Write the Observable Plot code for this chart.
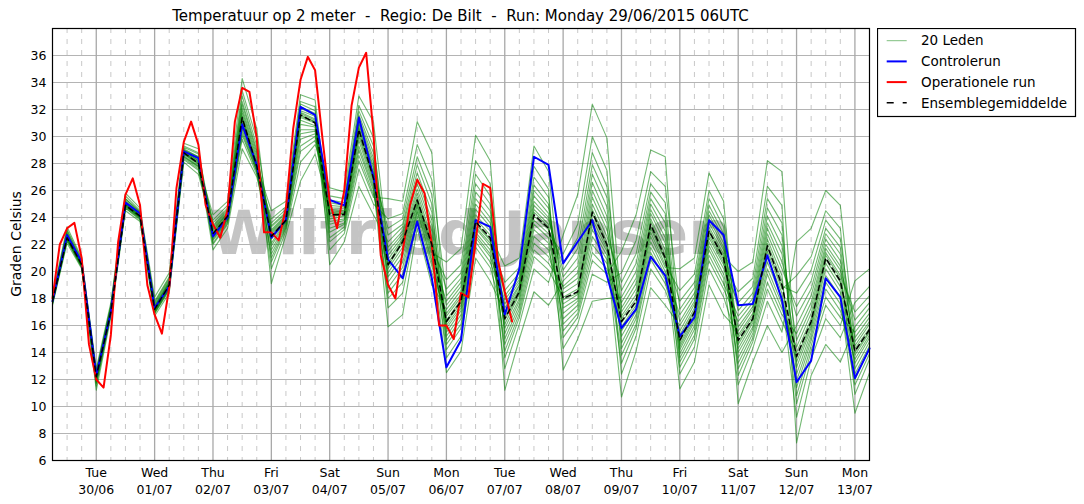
<!DOCTYPE html>
<html><head><meta charset="utf-8">
<script src="https://cdn.jsdelivr.net/npm/d3@7"></script>
<script src="https://cdn.jsdelivr.net/npm/@observablehq/plot@0.6"></script>
<style>
body{margin:0;background:#fff;font-family:"DejaVu Sans",sans-serif;}
#wrap{position:relative;width:1084px;height:504px;overflow:hidden;}
#chart{position:absolute;left:0;top:0;}
#title{position:absolute;top:9px;left:52px;width:817px;text-align:center;font-size:15px;line-height:1;color:#000;white-space:pre;}
#ylab{position:absolute;left:16px;top:244px;transform:translate(-50%,-50%) rotate(-90deg);font-size:14px;white-space:nowrap;color:#000;}
#legend{position:absolute;left:877px;top:28px;}
</style></head>
<body>
<div id="wrap">
  <div id="chart"></div>
  <div id="title">Temperatuur op 2 meter  -  Regio: De Bilt  -  Run: Monday 29/06/2015 06UTC</div>
  <div id="ylab">Graden Celsius</div>
  <div id="legend"></div>
</div>
<script>
// ---------- data ----------
const runStart = "2015-06-29T06:00Z";
const stapUren = 6;        // ensemble en controlerun: 6-uurlijks
const stapUrenOper = 3;    // operationele run: 3-uurlijks
const xEinde = "2015-07-13T06:00Z";

const dagLabels = ["Tue","Wed","Thu","Fri","Sat","Sun","Mon","Tue","Wed","Thu","Fri","Sat","Sun","Mon"];
const datumLabels = ["30/06","01/07","02/07","03/07","04/07","05/07","06/07","07/07","08/07","09/07","10/07","11/07","12/07","13/07"];
const yGrid = [6,8,10,12,14,16,18,20,22,24,26,28,30,32,34,36,38];
const yLabels = [6,8,10,12,14,16,18,20,22,24,26,28,30,32,34,36];

const ensembleGemiddelde = [
 17.8,22.5,20.5,12.2,17.0,24.9,24.1,17.2,19.0,28.8,
 28.0,22.8,24.1,31.4,27.8,22.6,23.8,31.6,31.0,24.2,
 24.2,30.5,26.9,20.5,22.2,25.3,22.0,16.3,17.8,23.7,
 22.5,16.5,18.5,24.2,23.2,18.0,18.5,24.4,22.0,16.3,
 17.8,23.5,21.0,14.9,17.0,23.0,21.0,14.9,16.5,21.9,
 19.0,13.7,16.3,21.0,19.3,14.1,15.7];

const controleRun = [
 17.8,22.7,20.7,12.3,17.0,25.1,24.3,17.3,18.9,28.9,
 28.4,22.6,24.0,30.9,27.9,22.5,23.8,32.2,31.6,25.3,
 24.9,31.4,27.0,20.9,19.5,23.7,19.5,12.9,14.9,23.8,
 23.3,16.8,20.2,28.5,27.9,20.6,22.2,23.8,19.7,15.8,
 17.2,21.1,19.7,15.2,16.6,23.8,22.7,17.5,17.6,21.2,
 17.9,11.8,13.4,19.5,18.1,12.1,14.3];

const operationeleRun = [
 18.0,22.0,23.2,23.6,21.0,14.6,12.0,11.4,15.3,22.2,
 25.7,26.9,24.9,19.0,16.8,15.4,18.8,26.2,29.6,31.1,
 29.4,24.9,23.5,22.5,24.6,31.1,33.6,33.3,29.9,22.9,
 22.9,22.3,24.7,30.6,34.2,35.9,34.9,29.9,25.2,23.2,
 26.0,32.3,35.1,36.2,30.2,21.2,19.0,18.0,21.5,24.9,
 26.8,25.8,22.0,16.0,16.0,15.0,18.4,18.1,22.2,26.5,
 26.2,21.0,18.5,16.3];

// 20 leden, een rij per tijdstap (lid 1 .. lid 20)
const ledenPerStap = [
 [17.9,17.7,17.8,17.6,18.1,17.8,17.7,17.9,17.8,18.0,17.5,17.9,17.7,17.9,17.8,17.7,18.2,17.8,18.0,17.6],
 [22.8,22.5,22.7,22.3,23.1,22.6,22.4,22.7,22.5,23.0,22.1,22.7,22.5,22.8,22.6,22.4,23.3,22.6,22.9,22.3],
 [20.6,20.4,20.5,20.3,20.9,20.5,20.4,20.6,20.5,20.8,20.2,20.6,20.4,20.7,20.5,20.4,21.0,20.5,20.7,20.3],
 [12.4,11.9,12.2,11.5,12.6,12.2,11.8,12.3,12.1,12.5,11.2,12.3,12.0,12.4,12.2,11.8,12.8,12.1,12.5,11.7],
 [17.3,17.0,17.1,16.8,17.5,17.1,16.9,17.2,17.0,17.4,16.6,17.2,17.0,17.3,17.1,16.9,17.7,17.1,17.4,16.8],
 [25.2,24.9,25.1,24.7,25.6,25.0,24.8,25.2,24.9,25.4,24.5,25.1,24.9,25.3,25.0,24.8,25.8,25.0,25.4,24.7],
 [24.3,24.0,24.1,23.8,24.5,24.1,23.9,24.2,24.0,24.4,23.7,24.2,24.0,24.3,24.1,24.0,24.7,24.1,24.4,23.9],
 [17.4,17.1,17.3,16.9,17.8,17.2,17.0,17.4,17.1,17.7,16.7,17.3,17.1,17.5,17.2,17.0,18.1,17.2,17.6,16.9],
 [19.2,18.8,19.1,18.6,19.6,19.0,18.7,19.2,18.9,19.5,18.4,19.1,18.9,19.3,19.0,18.8,19.9,19.0,19.4,18.7],
 [29.0,28.6,28.9,28.3,29.3,28.8,28.5,28.9,28.7,29.2,28.1,28.9,28.7,29.0,28.8,28.5,29.5,28.8,29.1,28.4],
 [28.4,27.8,28.2,27.5,28.8,28.1,27.7,28.3,28.0,28.7,27.2,28.2,27.9,28.5,28.1,27.8,29.1,28.0,28.5,27.6],
 [22.6,23.3,22.1,23.0,23.4,21.6,22.8,22.4,23.8,22.7,23.1,22.0,24.2,22.6,23.6,22.8,22.5,23.2,22.3,22.9],
 [23.9,24.5,23.6,24.3,24.6,23.2,24.1,23.8,24.9,24.0,24.3,23.5,25.2,24.0,24.7,24.1,23.8,24.4,23.7,24.2],
 [30.9,32.4,30.1,31.7,32.6,29.1,31.4,30.5,33.4,31.1,31.9,29.8,34.3,31.0,33.0,31.3,30.7,32.1,30.3,31.5],
 [27.6,28.8,27.4,28.2,29.0,27.0,27.9,27.5,29.8,27.7,28.4,27.2,30.6,27.7,29.3,27.8,27.6,28.6,27.4,28.0],
 [23.6,22.4,23.1,21.0,21.9,22.9,24.5,20.2,22.7,21.3,23.4,22.5,21.6,23.9,19.1,23.0,22.8,20.7,23.3,22.1],
 [24.6,23.7,24.2,23.3,23.6,24.0,25.2,23.0,23.8,23.4,24.4,23.8,23.5,24.8,22.7,24.1,23.9,23.2,24.3,23.7],
 [32.4,31.2,31.9,29.3,30.5,31.7,33.1,28.1,31.5,29.8,32.2,31.4,30.2,32.6,26.7,31.8,31.6,28.9,32.1,30.9],
 [31.9,30.8,31.5,30.0,30.5,31.2,32.7,29.4,31.1,30.2,31.7,31.0,30.4,32.2,28.7,31.3,31.1,29.7,31.6,30.7],
 [22.5,25.6,24.1,24.6,21.6,25.1,23.7,26.2,22.9,24.4,23.5,25.3,23.9,20.5,24.7,24.9,22.2,24.3,24.5,23.2],
 [23.3,25.4,24.2,24.5,22.8,24.9,23.9,25.9,23.5,24.3,23.8,25.1,24.1,22.2,24.7,24.8,23.1,24.3,24.4,23.6],
 [28.6,32.3,30.4,31.0,27.6,31.6,30.0,33.0,29.0,30.7,29.7,31.9,30.2,26.3,31.2,31.4,28.2,30.6,30.9,29.3],
 [25.7,29.9,26.9,27.8,25.0,28.8,26.6,31.1,26.0,27.3,26.4,29.3,26.8,24.2,28.1,28.4,25.5,27.1,27.6,26.2],
 [21.8,19.2,20.9,17.3,23.9,20.4,18.4,21.5,19.9,23.2,15.9,21.2,19.6,22.2,20.6,18.8,25.4,20.2,22.7,18.0],
 [23.0,20.7,22.4,18.4,24.3,22.1,19.8,22.8,21.5,23.9,16.8,22.6,21.1,23.3,22.3,20.3,25.2,21.8,23.5,19.2],
 [26.9,24.7,25.8,23.8,29.4,25.3,24.4,26.5,25.0,28.5,23.2,26.1,24.9,27.3,25.5,24.5,31.1,25.2,27.9,24.1],
 [23.8,21.2,22.5,19.9,26.8,21.9,20.7,23.4,21.6,25.7,19.0,23.0,21.4,24.4,22.2,20.9,28.8,21.8,25.0,20.4],
 [15.5,17.8,14.2,16.9,18.2,12.5,16.4,14.9,19.4,16.0,17.2,13.6,20.7,15.8,18.7,16.2,15.2,17.5,14.6,16.7],
 [17.1,19.2,15.8,18.3,19.5,14.1,17.9,16.5,20.5,17.5,18.6,15.2,21.7,17.3,19.9,17.7,16.8,18.9,16.1,18.1],
 [23.2,25.9,22.2,24.6,26.5,21.0,23.9,22.7,28.2,23.5,25.0,21.8,30.1,23.3,27.2,23.6,22.9,25.4,22.5,24.2],
 [21.9,24.5,20.7,23.3,25.0,19.3,22.7,21.3,26.5,22.3,23.6,20.3,28.2,22.1,25.6,22.4,21.6,24.0,21.1,23.0],
 [18.6,16.1,17.6,14.1,15.4,17.0,20.4,12.8,16.6,14.6,18.2,16.4,15.0,19.2,11.2,17.3,16.8,13.6,17.9,15.8],
 [19.9,18.3,19.2,16.9,17.8,18.9,21.0,16.1,18.6,17.2,19.6,18.4,17.5,20.3,15.0,19.0,18.7,16.6,19.4,18.0],
 [27.0,23.8,25.6,21.6,23.1,24.9,29.3,20.2,24.4,22.1,26.4,24.1,22.6,27.8,18.5,25.2,24.6,21.1,26.0,23.5],
 [25.5,22.8,24.3,20.6,22.1,23.8,27.4,19.2,23.3,21.1,25.0,23.1,21.6,26.1,17.5,24.0,23.5,20.1,24.7,22.5],
 [15.6,21.3,17.9,18.9,14.3,20.1,17.3,22.7,16.1,18.4,16.9,20.6,17.6,12.7,19.3,19.6,15.1,18.1,18.7,16.5],
 [16.9,23.5,18.4,19.9,16.1,21.7,18.0,25.7,17.2,19.1,17.8,22.5,18.3,15.0,20.4,21.0,16.6,18.7,19.5,17.5],
 [21.4,30.0,24.3,26.0,19.8,27.9,23.5,32.4,22.0,25.0,23.1,28.8,23.9,17.8,26.6,27.2,20.8,24.6,25.5,22.6],
 [20.2,27.5,21.9,23.6,19.2,25.5,21.5,29.9,20.6,22.6,21.2,26.3,21.7,18.0,24.1,24.8,19.8,22.2,23.1,20.9],
 [17.7,14.7,16.7,12.4,19.9,16.2,13.8,17.3,15.6,19.2,10.7,17.0,15.2,18.1,16.5,14.3,21.5,15.9,18.6,13.2],
 [19.5,16.8,18.3,15.2,22.3,17.7,16.1,19.1,17.3,21.3,14.1,18.7,17.1,20.0,18.0,16.5,24.2,17.5,20.6,15.8],
 [25.0,22.2,23.9,20.2,27.4,23.4,21.4,24.6,22.9,26.5,18.8,24.3,22.6,25.4,23.7,21.8,29.0,23.2,25.9,20.9],
 [23.0,20.0,21.6,18.6,26.3,20.9,19.4,22.5,20.5,25.1,17.5,22.1,20.3,23.6,21.2,19.7,28.5,20.8,24.3,19.1],
 [14.2,16.8,12.9,15.6,17.2,11.3,15.1,13.6,18.6,14.6,16.0,12.4,20.2,14.4,17.8,14.8,13.9,16.3,13.3,15.3],
 [16.3,18.4,15.0,17.6,18.8,13.3,17.1,15.7,19.8,16.7,17.8,14.4,21.0,16.5,19.2,16.9,16.0,18.1,15.3,17.3],
 [22.2,24.5,20.8,23.6,24.9,19.0,23.1,21.6,26.0,22.7,23.9,20.2,27.3,22.5,25.4,22.9,21.9,24.2,21.2,23.3],
 [20.2,22.5,18.7,21.6,22.8,16.8,21.1,19.5,23.9,20.7,21.8,18.1,25.2,20.5,23.3,20.9,19.8,22.1,19.1,21.3],
 [17.7,14.6,16.3,12.8,14.0,15.6,20.0,11.6,15.1,13.2,17.1,14.8,13.6,18.5,10.2,15.9,15.3,12.3,16.7,14.3],
 [18.9,16.4,17.7,15.1,15.9,17.2,20.7,14.3,16.7,15.4,18.4,16.5,15.7,19.5,13.3,17.4,16.9,14.8,18.0,16.2],
 [25.4,21.5,23.6,19.2,20.7,22.8,28.2,17.8,22.1,19.8,24.7,21.8,20.2,26.3,16.0,23.2,22.4,18.7,24.1,21.1],
 [23.6,18.7,21.3,16.8,18.0,20.2,27.4,15.5,19.3,17.2,22.7,18.9,17.6,24.9,14.0,20.7,19.7,16.3,21.9,18.4],
 [10.8,19.7,13.6,15.4,9.2,17.4,12.9,22.2,11.4,14.4,12.4,18.4,13.3,7.3,16.0,16.7,10.2,14.0,14.9,11.9],
 [14.5,21.1,16.2,17.7,13.5,19.3,15.8,23.2,14.9,16.9,15.5,20.1,16.0,12.3,18.2,18.7,14.1,16.5,17.3,15.2],
 [18.1,24.5,20.9,22.0,16.5,23.2,20.2,26.0,18.7,21.4,19.7,23.8,20.6,14.6,22.4,22.8,17.5,21.2,21.7,19.2],
 [16.6,23.2,19.2,20.4,15.1,21.8,18.5,24.9,17.1,19.7,18.1,22.4,18.9,13.3,20.8,21.3,16.0,19.5,20.1,17.6],
 [15.5,12.8,14.5,10.9,17.7,14.0,12.0,15.1,13.5,17.0,9.5,14.8,13.2,15.9,14.3,12.4,19.3,13.8,16.4,11.6],
 [16.9,14.8,16.1,13.5,18.9,15.6,14.3,16.6,15.3,18.2,12.5,16.3,15.1,17.3,15.8,14.5,20.2,15.5,17.7,13.9]
];

// ---------- tables ----------
const t0 = new Date(runStart).getTime();
const uur = 3600000;
const tijdVan = (i, stap) => new Date(t0 + i * stap * uur);
const tabelLeden = [];
ledenPerStap.forEach((rij, i) => rij.forEach((v, m) => tabelLeden.push({tijd: tijdVan(i, stapUren), temp: v, lid: m + 1})));
const tabelControle = controleRun.map((v, i) => ({tijd: tijdVan(i, stapUren), temp: v}));
const tabelGem = ensembleGemiddelde.map((v, i) => ({tijd: tijdVan(i, stapUren), temp: v}));
const tabelOper = operationeleRun.map((v, i) => ({tijd: tijdVan(i, stapUrenOper), temp: v}));

const xDomein = [new Date(runStart), new Date(xEinde)];
const dagen = datumLabels.map((s, i) => new Date(Date.UTC(2015, 5, 30 + i)));
const zesUur = d3.utcHour.every(6).range(xDomein[0], new Date(xDomein[1].getTime() + 1)).filter(d => d.getUTCHours() !== 0);

const chart = Plot.plot({
  width: 1084, height: 504,
  marginLeft: 52, marginRight: 215, marginTop: 28, marginBottom: 44,
  style: {fontFamily: "'DejaVu Sans', sans-serif", fontSize: "12px", background: "white", color: "black"},
  x: {type: "utc", domain: xDomein, axis: null},
  y: {domain: [6, 38], axis: null},
  marks: [
    Plot.text(["Wilfried Jansen"], {frameAnchor: "middle", dx: 10, dy: -10, text: d => d, fontSize: 61, fontWeight: "bold", fill: "#c4c4c4"}),
    Plot.ruleX(zesUur, {stroke: "#c8c8c8", strokeDasharray: "5,6", strokeWidth: 1}),
    Plot.ruleY(yGrid, {stroke: "#b4b4b4", strokeWidth: 1}),
    Plot.ruleX(dagen, {stroke: "#a8a8a8", strokeWidth: 1.3}),
    Plot.line(tabelLeden, {x: "tijd", y: "temp", z: "lid", stroke: "#008000", strokeOpacity: 0.55, strokeWidth: 1.1}),
    Plot.line(tabelControle, {x: "tijd", y: "temp", stroke: "#0000ff", strokeWidth: 2}),
    Plot.line(tabelOper, {x: "tijd", y: "temp", stroke: "#ff0000", strokeWidth: 2}),
    Plot.line(tabelGem, {x: "tijd", y: "temp", stroke: "#000", strokeWidth: 1.5, strokeDasharray: "5,4"}),
    Plot.frame({stroke: "black", strokeWidth: 1.2}),
    Plot.axisY({ticks: yLabels, tickSize: 0, tickPadding: 6, fontSize: 12.5, label: null}),
    Plot.text(dagen, {x: d => d, frameAnchor: "bottom", dy: 12, text: (d, i) => dagLabels[i], fontSize: 12.5, lineAnchor: "middle"}),
    Plot.text(dagen, {x: d => d, frameAnchor: "bottom", dy: 29, text: (d, i) => datumLabels[i], fontSize: 12.5, lineAnchor: "middle"})
  ]
});
document.getElementById("chart").appendChild(chart);

// ---------- legend ----------
const legendItems = [
  {label: "20 Leden", stroke: "#008000", opacity: 0.5, width: 1, dash: null},
  {label: "Controlerun", stroke: "#0000ff", opacity: 1, width: 2, dash: null},
  {label: "Operationele run", stroke: "#ff0000", opacity: 1, width: 2, dash: null},
  {label: "Ensemblegemiddelde", stroke: "#000", opacity: 1, width: 1.5, dash: "7,9"}
];
const ns = "http://www.w3.org/2000/svg";
const lg = document.createElementNS(ns, "svg");
lg.setAttribute("width", 200); lg.setAttribute("height", 90);
const box = document.createElementNS(ns, "rect");
box.setAttribute("x", 0.5); box.setAttribute("y", 0.5); box.setAttribute("width", 198); box.setAttribute("height", 88);
box.setAttribute("fill", "white"); box.setAttribute("stroke", "black"); box.setAttribute("stroke-width", 1.2);
lg.appendChild(box);
legendItems.forEach((it, i) => {
  const y = 12.7 + i * 20.7;
  const l = document.createElementNS(ns, "line");
  l.setAttribute("x1", 9.7); l.setAttribute("x2", 29.7); l.setAttribute("y1", y); l.setAttribute("y2", y);
  l.setAttribute("stroke", it.stroke); l.setAttribute("stroke-opacity", it.opacity); l.setAttribute("stroke-width", it.width);
  if (it.dash) l.setAttribute("stroke-dasharray", it.dash);
  lg.appendChild(l);
  const t = document.createElementNS(ns, "text");
  t.setAttribute("x", 44); t.setAttribute("y", y); t.setAttribute("dy", "0.35em");
  t.setAttribute("font-family", "DejaVu Sans"); t.setAttribute("font-size", "13.5px");
  t.textContent = it.label;
  lg.appendChild(t);
});
document.getElementById("legend").appendChild(lg);
</script>
</body></html>
